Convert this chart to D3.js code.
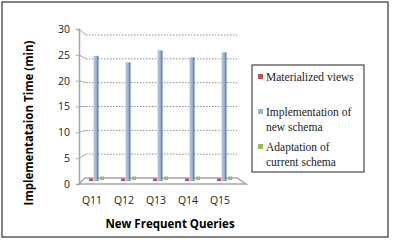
<!DOCTYPE html>
<html>
<head>
<meta charset="utf-8">
<script src="https://cdn.jsdelivr.net/npm/d3@7"></script>
<style>
  body { margin: 0; background: #fff; }
  svg { display: block; }
</style>
</head>
<body>
<div class="container"></div>
<script>
const queries = ["Q11", "Q12", "Q13", "Q14", "Q15"];
const materialized = [0.5, 0.5, 0.5, 0.5, 0.5];
const newSchema = [25.2, 23.9, 26.3, 24.9, 25.9];
const adaptation = [0.7, 0.7, 0.7, 0.7, 0.7];
const yTicks = [0, 5, 10, 15, 20, 25, 30];
const seriesNames = ["Materialized views", "Implementation of|new schema", "Adaptation of|current schema"];
const seriesColors = ["#c0504d", "#95b3d7", "#9bbb59"];

const width = 400, height = 242;
const svg = d3.select(".container").append("svg")
  .attr("width", width).attr("height", height);

const defs = svg.append("defs");
const grad = defs.append("linearGradient").attr("id", "blueBar");
grad.append("stop").attr("offset", "0%").attr("stop-color", "#b8cce4");
grad.append("stop").attr("offset", "55%").attr("stop-color", "#95b3d7");
grad.append("stop").attr("offset", "100%").attr("stop-color", "#4f6f9a");

// outer frame
svg.append("rect").attr("x", 2).attr("y", 2).attr("width", 386).attr("height", 235)
  .attr("fill", "#fff").attr("stroke", "#333").attr("stroke-width", 1.2);

// scales: front axis, back wall, bar depth
const yFront = d3.scaleLinear().domain([0, 30]).range([184, 29]);
const yBack = d3.scaleLinear().domain([0, 30]).range([178, 35]);
const yBar = d3.scaleLinear().domain([0, 30]).range([181, 32]);
const xFront = d3.scaleBand().domain(queries).range([76, 236]);
const xMid = d3.scaleBand().domain(queries).range([80, 240]);

// floor
svg.append("path")
  .attr("d", `M79,184 L85,178 L237,178 L246,184 Z`)
  .attr("fill", "#fff").attr("stroke", "#a6a6a6").attr("stroke-width", 1.5);

// gridlines on back wall
const grid = svg.append("g");
yTicks.filter(t => t > 0).forEach(t => {
  grid.append("line")
    .attr("x1", 79).attr("y1", yFront(t)).attr("x2", 86).attr("y2", yBack(t))
    .attr("stroke", "#a6a6a6").attr("stroke-width", 1);
  grid.append("line")
    .attr("x1", 86).attr("y1", yBack(t)).attr("x2", 237).attr("y2", yBack(t))
    .attr("stroke", "#8c8c8c").attr("stroke-width", 1).attr("stroke-dasharray", "1.5,1.5");
});

// y axis
const yAxis = svg.append("g").attr("transform", "translate(79,0)")
  .call(d3.axisLeft(yFront).tickValues(yTicks).tickSize(3).tickPadding(6));
yAxis.select(".domain").attr("stroke", "#a6a6a6").attr("stroke-width", 1.5);
yAxis.selectAll(".tick line").attr("stroke", "#a6a6a6");
yAxis.selectAll("text").attr("font-family", "'Open Sans', sans-serif")
  .attr("font-size", 10.5).attr("fill", "#222");

// bars
const bars = svg.append("g");
bars.selectAll(".red").data(materialized).enter().append("rect")
  .attr("x", (d, i) => xMid(queries[i]) + xMid.bandwidth() / 2 - 7)
  .attr("y", d => yBar(d)).attr("width", 4)
  .attr("height", d => yBar(0) - yBar(d)).attr("fill", seriesColors[0]);
bars.selectAll(".blue").data(newSchema).enter().append("rect")
  .attr("x", (d, i) => xMid(queries[i]) + xMid.bandwidth() / 2 - 2.5)
  .attr("y", d => yBar(d)).attr("width", 5)
  .attr("height", d => yBar(0) - yBar(d)).attr("fill", "url(#blueBar)");
bars.selectAll(".green").data(adaptation).enter().append("rect")
  .attr("x", (d, i) => xMid(queries[i]) + xMid.bandwidth() / 2 + 4)
  .attr("y", d => yBar(d) - 1).attr("width", 4)
  .attr("height", d => yBar(0) - yBar(d)).attr("fill", seriesColors[2]);

// x labels
svg.append("g").selectAll("text").data(queries).enter().append("text")
  .attr("x", d => xFront(d) + xFront.bandwidth() / 2)
  .attr("y", 204)
  .attr("text-anchor", "middle")
  .attr("font-family", "'Open Sans', sans-serif").attr("font-size", 10.5).attr("fill", "#222")
  .text(d => d);

// axis titles
svg.append("text")
  .attr("x", 170).attr("y", 228).attr("text-anchor", "middle")
  .attr("font-family", "'Open Sans', sans-serif").attr("font-size", 11.5).attr("font-weight", "bold")
  .text("New Frequent Queries");
svg.append("text")
  .attr("transform", "translate(33,123) rotate(-90)").attr("text-anchor", "middle")
  .attr("font-family", "'Open Sans', sans-serif").attr("font-size", 11.5).attr("font-weight", "bold")
  .text("Implementataion Time (min)");

// legend
const legend = svg.append("g");
legend.append("rect").attr("x", 252).attr("y", 65).attr("width", 112).attr("height", 107)
  .attr("fill", "#fff").attr("stroke", "#222").attr("stroke-width", 1);
const legendY = [77, 112, 147];
seriesNames.forEach((name, i) => {
  legend.append("rect").attr("x", 258).attr("y", legendY[i] - 3).attr("width", 5).attr("height", 5)
    .attr("fill", seriesColors[i]);
  name.split("|").forEach((line, j) => {
    legend.append("text")
      .attr("x", 266).attr("y", legendY[i] + 4 + j * 15)
      .attr("font-family", "'Liberation Serif', 'Times New Roman', serif").attr("font-size", 11.5)
      .attr("fill", "#222")
      .text(line);
  });
});
</script>
</body>
</html>
